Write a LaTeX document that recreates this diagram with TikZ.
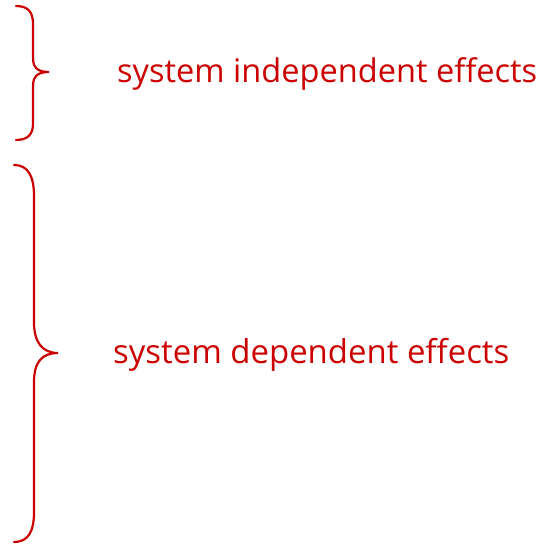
\documentclass[tikz,border=0pt]{standalone}
\usepackage{fontspec}
\setmainfont{Open Sans}
\definecolor{bred}{RGB}{204,0,0}
\begin{document}
\begin{tikzpicture}[x=1pt,y=-1pt,
  bracestyle/.style={draw=bred,line width=2.2pt,line cap=round},
  lbl/.style={text=bred,anchor=west,inner sep=0pt}]
\useasboundingbox (0,0) rectangle (541,545);
% brace 1
\coordinate (a1) at (16,6);
\coordinate (t1) at (49,72);
\coordinate (b1) at (16,140);
\draw[bracestyle] (a1) .. controls (28,6) and (33,12) .. (33,24) -- (33,58)
  .. controls (33,68) and (38,72) .. (t1)
  .. controls (38,72) and (33,76) .. (33,86) -- (33,124)
  .. controls (33,134) and (28,140) .. (b1);
% brace 2
\coordinate (a2) at (14,165);
\coordinate (t2) at (58,353);
\coordinate (b2) at (14,542);
\draw[bracestyle] (a2) .. controls (28,165) and (34,176) .. (34,196) -- (34,322)
  .. controls (34,342) and (42,353) .. (t2)
  .. controls (42,353) and (34,362) .. (34,382) -- (34,512)
  .. controls (34,532) and (28,542) .. (b2);
\node[lbl] (l1) at (117,74) {\resizebox{420pt}{!}{system independent effects}};
\node[lbl] (l2) at (113,355) {\resizebox{396pt}{!}{system dependent effects}};
\end{tikzpicture}
\end{document}
